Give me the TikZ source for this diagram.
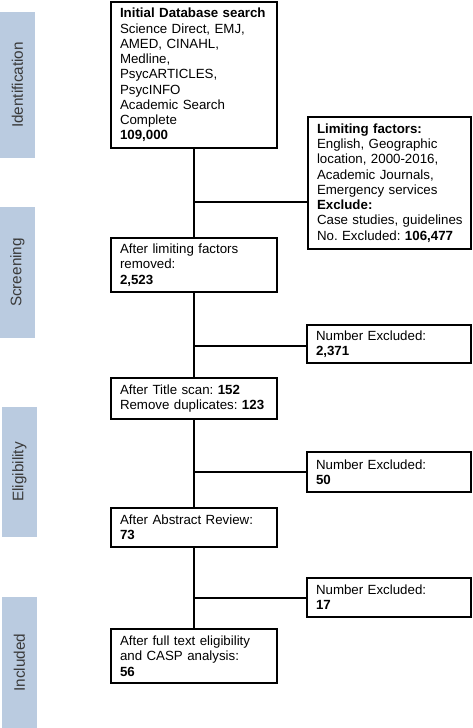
\documentclass[tikz,border=0pt]{standalone}
\usepackage{fontspec}
\setmainfont{Liberation Sans}
\definecolor{barblue}{HTML}{BACBE0}
\definecolor{bartext}{HTML}{3A3A3A}
\newcommand{\boxfont}{\fontsize{13.3}{15.25}\selectfont\frenchspacing}
\begin{document}
\begin{tikzpicture}[x=1pt,y=-1pt,
  box/.style={draw, line width=1.2pt, rectangle, inner xsep=9pt, inner ysep=0pt,
    align=left, font=\boxfont},
  mainbox/.style={box, text width=148pt, minimum width=166pt},
  sidebox/.style={box, text width=146pt, minimum width=164pt},
  bar/.style={fill=barblue, draw=none},
  barlabel/.style={rotate=90, text=bartext, font=\fontsize{15.3}{17}\selectfont},
  link/.style={line width=1.2pt}]
\useasboundingbox (0,0) rectangle (473,728);
% phase bars
\fill[bar] (0,12) rectangle (35,158);
\fill[bar] (0,207) rectangle (35,338);
\fill[bar] (2,407) rectangle (37,537);
\fill[bar] (2,597) rectangle (37,728);
\node[barlabel] (lid) at (17.5,85) {Identification};
\node[barlabel] (lsc) at (17.5,272.5) {Screening};
\node[barlabel] (lel) at (19.5,472) {Eligibility};
\node[barlabel] (lin) at (19.5,662.5) {Included};
% main boxes
\node[mainbox, minimum height=146pt] (init) at (194,75) {\textbf{Initial Database search}\\Science Direct, EMJ,\\AMED, CINAHL,\\Medline,\\PsycARTICLES,\\PsycINFO\\Academic Search\\Complete\\\textbf{109,000}};
\node[mainbox, minimum height=54pt] (s1) at (194,265) {After limiting factors\\removed:\\\textbf{2,523}};
\node[mainbox, minimum height=41pt] (s2) at (194,398.5) {After Title scan: \textbf{152}\\Remove duplicates: \textbf{123}};
\node[mainbox, minimum height=39pt] (s3) at (194,527.5) {After Abstract Review:\\\textbf{73}};
\node[mainbox, minimum height=54pt] (s4) at (194,656) {After full text eligibility\\and CASP analysis:\\\textbf{56}};
% side boxes
\node[sidebox, minimum height=132pt, minimum width=163pt, text width=145pt] (lim) at (389.5,183) {\textbf{Limiting factors:}\\English, Geographic\\location, 2000-2016,\\Academic Journals,\\Emergency services\\\textbf{Exclude:}\\\mbox{Case studies, guidelines}\\\mbox{No. Excluded: \textbf{106,477}}};
\node[sidebox, minimum height=38pt] (e1) at (389,344) {Number Excluded:\\\textbf{2,371}};
\node[sidebox, minimum height=40pt] (e2) at (389,472) {Number Excluded:\\\textbf{50}};
\node[sidebox, minimum height=39pt] (e3) at (389,597.5) {Number Excluded:\\\textbf{17}};
% connectors
\draw[link] (init.south) -- (s1.north);
\draw[link] (s1.south) -- (s2.north);
\draw[link] (s2.south) -- (s3.north);
\draw[link] (s3.south) -- (s4.north);
\coordinate (b0) at (194,202);
\coordinate (b1) at (194,346);
\coordinate (b2) at (194,472);
\coordinate (b3) at (194,598);
\draw[link] (b0) -- (b0 -| lim.west);
\draw[link] (b1) -- (b1 -| e1.west);
\draw[link] (b2) -- (b2 -| e2.west);
\draw[link] (b3) -- (b3 -| e3.west);
\end{tikzpicture}
\end{document}
